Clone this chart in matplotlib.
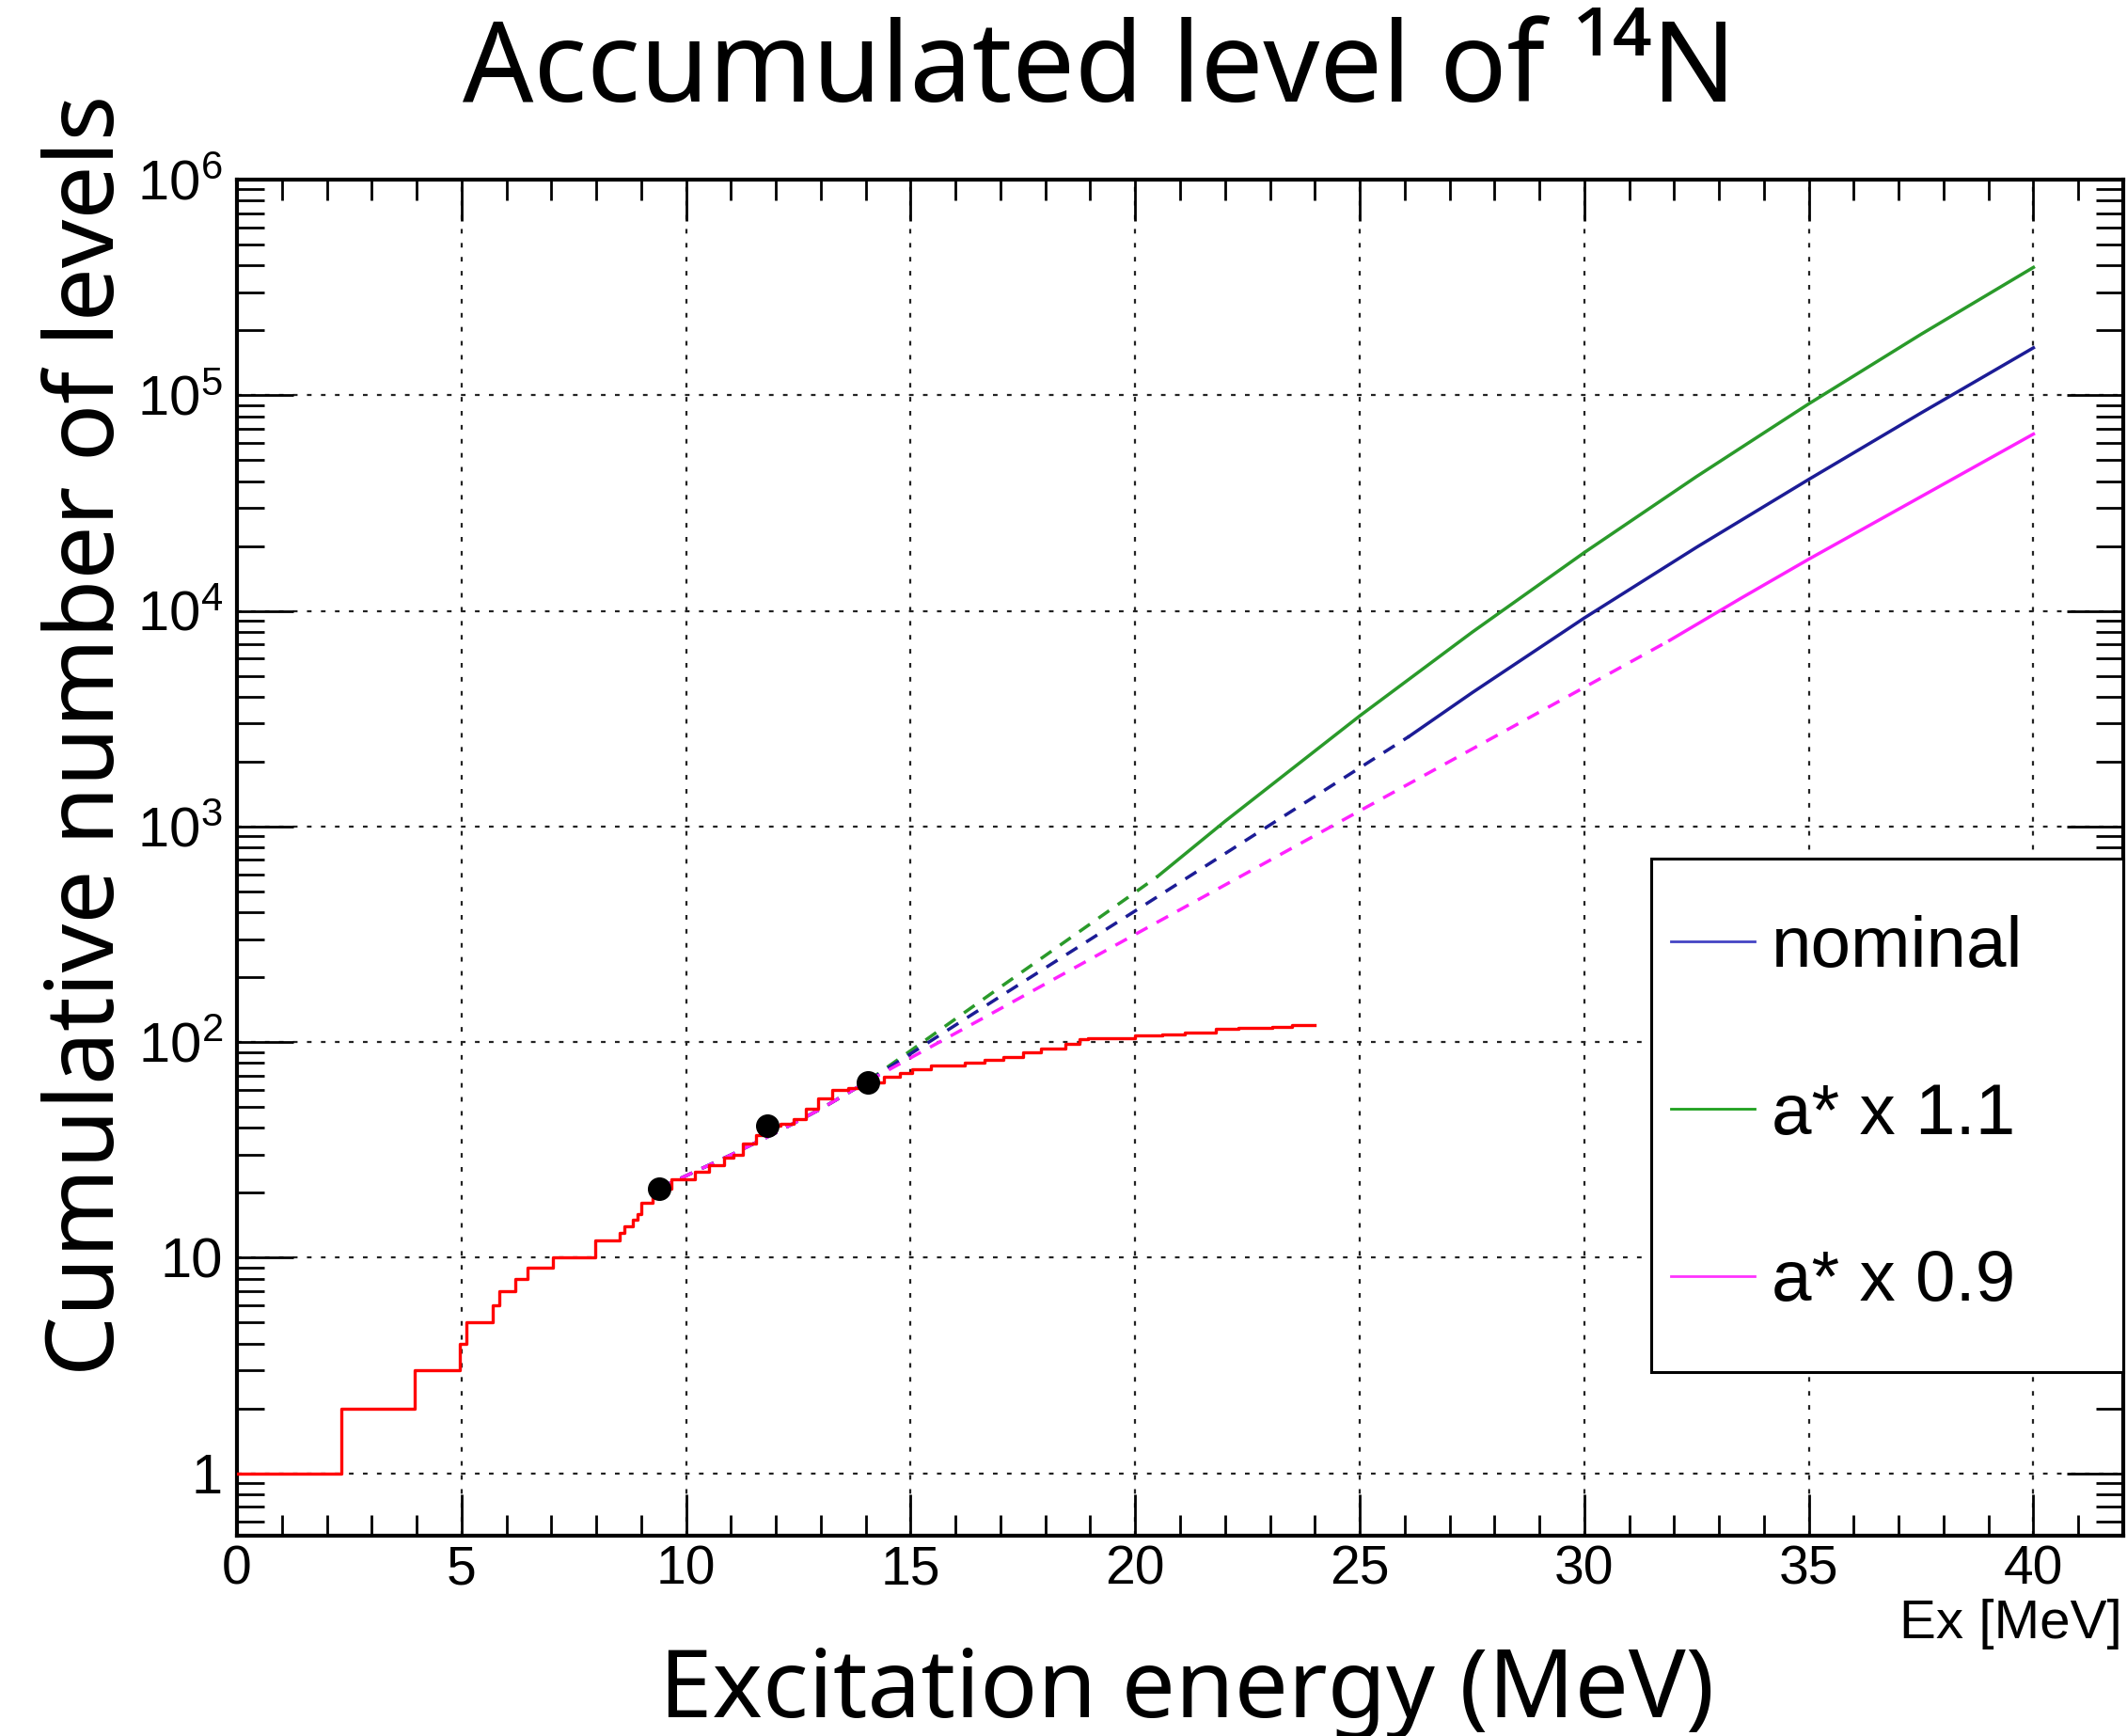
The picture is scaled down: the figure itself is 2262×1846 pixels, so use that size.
import numpy as np
import matplotlib
matplotlib.use('Agg')
import matplotlib.pyplot as plt
from matplotlib.lines import Line2D
from matplotlib.legend_handler import HandlerLine2D
from matplotlib.ticker import FixedLocator, FixedFormatter, MultipleLocator, LogLocator, NullFormatter

plt.rcParams['mathtext.fontset'] = 'custom'
plt.rcParams['mathtext.rm'] = 'Liberation Sans'
plt.rcParams['mathtext.it'] = 'Liberation Sans:italic'
plt.rcParams['mathtext.bf'] = 'Liberation Sans:bold'

# ---------------- data ----------------
# experimental cumulative level count (step function)
level_energy = [0, 2.33, 3.95, 4.97, 5.1, 5.69, 5.85, 6.2, 6.46, 7.03,
                7.97, 8.53, 8.63, 8.82, 8.92, 9.0, 9.26, 9.45, 9.67, 10.2,
                10.5, 10.85, 11.06, 11.27, 11.55, 11.8, 12.1, 12.4, 12.66, 12.94,
                13.26, 13.6, 14.0, 14.4, 14.76, 15.03, 15.45, 16.2, 16.65, 17.06,
                17.5, 17.9, 18.45, 18.75, 18.95, 20.0, 20.6, 21.1, 21.8, 22.3,
                23.05, 23.5, 24.0]
level_count = [1, 2, 3, 4, 5, 6, 7, 8, 9, 10,
               12, 13, 14, 15, 16, 18, 20, 21, 23, 25,
               27, 29, 30, 34, 37, 41, 42, 44, 49, 55,
               60, 61, 65, 69, 72, 75, 78, 80, 83, 85,
               90, 93, 98, 103, 104, 107, 109, 111, 115, 116,
               118, 120, 120]

# fit points
point_energy = [9.4, 11.8, 14.05]
point_count = [21, 41, 65]

# model curves (dashed below *_solid_from, solid above)
nominal_energy = [9.4, 10, 11, 12, 13, 14, 17, 20, 23, 26.1, 27.5, 30, 32.5, 35, 37.5, 40]
nominal_count = [21, 24, 30, 38, 49, 65, 163, 406, 1016, 2618, 4169, 9268, 19724, 40738, 82794, 165959]
nominal_solid_from = 26.1

high_energy = [9.4, 10, 11, 12, 13, 14, 17, 20, 20.5, 22, 25, 27.5, 30, 32.5, 35, 37.5, 40]
high_count = [21, 24, 30, 38, 49, 65, 180, 495, 587, 1057, 3258, 7955, 18643, 41976, 91309, 191867, 391742]
high_solid_from = 20.5

low_energy = [9.4, 10, 11, 12, 13, 14, 17, 20, 25, 29, 31.9, 33.5, 35, 37.5, 40]
low_count = [21, 24, 30, 38, 49, 65, 143, 316, 1182, 3393, 7295, 11482, 17378, 33884, 66069]
low_solid_from = 31.9

legend_labels = ['nominal', 'a* x 1.1', 'a* x 0.9']
xtick_values = [0, 5, 10, 15, 20, 25, 30, 35, 40]
xtick_labels = ['0', '5', '10', '15', '20', '25', '30', '35', '40']
ytick_values = [1, 10, 1e2, 1e3, 1e4, 1e5, 1e6]
ytick_labels = ['1', '10', r'$\mathregular{10^{2}}$', r'$\mathregular{10^{3}}$',
                r'$\mathregular{10^{4}}$', r'$\mathregular{10^{5}}$', r'$\mathregular{10^{6}}$']

# ---------------- figure ----------------
W, H = 2262, 1846
fig = plt.figure(figsize=(W / 100, H / 100), dpi=100)
ax = fig.add_axes([252 / W, 1 - 1633 / H, (2258 - 252) / W, (1633 - 191) / H])

ax.set_yscale('log')
ax.set_xlim(0, 42)
ax.set_ylim(0.514, 1e6)

col_blue = '#1c1c96'
col_green = '#2a9a2a'
col_mag = '#ff22ff'
lw_model = 2.5
dash = (0, (4.0, 3.2))

for e, c, s, col in [(high_energy, high_count, high_solid_from, col_green),
                     (nominal_energy, nominal_count, nominal_solid_from, col_blue),
                     (low_energy, low_count, low_solid_from, col_mag)]:
    e = np.asarray(e)
    c = np.asarray(c)
    m1 = e <= s
    m2 = e >= s
    ax.plot(e[m1], c[m1], color=col, lw=lw_model, linestyle=dash, zorder=3)
    ax.plot(e[m2], c[m2], color=col, lw=lw_model, linestyle='-', zorder=3)

ax.plot(level_energy, level_count, drawstyle='steps-post', color='#ff0000', lw=2.4, zorder=4)
ax.plot(point_energy, point_count, 'o', color='black', ms=17, zorder=5)

# grid
ax.grid(True, which='major', color='#222222', linestyle=(0, (2.2, 4.5)), linewidth=1.6, zorder=1)
ax.set_axisbelow(True)

# ticks
ax.xaxis.set_major_locator(FixedLocator(xtick_values))
ax.xaxis.set_major_formatter(FixedFormatter(xtick_labels))
ax.xaxis.set_minor_locator(MultipleLocator(1))
ax.yaxis.set_major_locator(FixedLocator(ytick_values))
ax.yaxis.set_major_formatter(FixedFormatter(ytick_labels))
ax.yaxis.set_minor_locator(LogLocator(base=10, subs=np.arange(2, 10), numticks=20))
ax.yaxis.set_minor_formatter(NullFormatter())

ax.tick_params(which='both', direction='in', top=True, right=True, width=2.0, color='black')
ax.tick_params(axis='x', which='major', length=32, pad=7, labelsize=41)
ax.tick_params(axis='x', which='minor', length=16)
ax.tick_params(axis='y', which='major', length=43, pad=11, labelsize=43)
ax.tick_params(axis='y', which='minor', length=21)
for lab in ax.get_xticklabels() + ax.get_yticklabels():
    lab.set_fontfamily('Liberation Sans')

for sp in ax.spines.values():
    sp.set_linewidth(3)
    sp.set_color('black')

# legend
handles = [Line2D([], [], color='#4444c4', lw=2),
           Line2D([], [], color='#1ea01e', lw=2),
           Line2D([], [], color='#ff33ff', lw=2)]
hmap = {h: HandlerLine2D(xpad=-0.51) for h in handles}
leg = ax.legend(handles, legend_labels, loc='upper left', handler_map=hmap,
                bbox_to_anchor=(0.7498, 0.1248, 0.2502, 0.3745), mode='expand',
                borderaxespad=0, borderpad=0.78, labelspacing=1.40,
                handlelength=0.66, handletextpad=0.235, fancybox=False,
                framealpha=1, edgecolor='black',
                prop={'family': 'Liberation Sans', 'size': 55})
leg.get_frame().set_linewidth(2.2)
leg.set_zorder(10)

# texts
fig.text(0.517, 1 - 108 / H, 'Accumulated level of \u00b9\u2074N', ha='center', va='baseline',
         fontsize=85, family=['Noto Sans', 'DejaVu Sans'])
fig.text(0.558, 1 - 1826 / H, 'Excitation energy (MeV)', ha='center', va='baseline',
         fontsize=73, family=['Noto Sans', 'DejaVu Sans'])
fig.text(121 / W, 1 - 782 / H, 'Cumulative number of levels', rotation=90, rotation_mode='anchor',
         ha='center', va='baseline', fontsize=73, family=['Noto Sans', 'DejaVu Sans'])
fig.text(2257 / W, 1 - 1742 / H, 'Ex [MeV]', ha='right', va='baseline',
         fontsize=42, family='Liberation Sans')

fig.savefig('out.png', dpi=100)
